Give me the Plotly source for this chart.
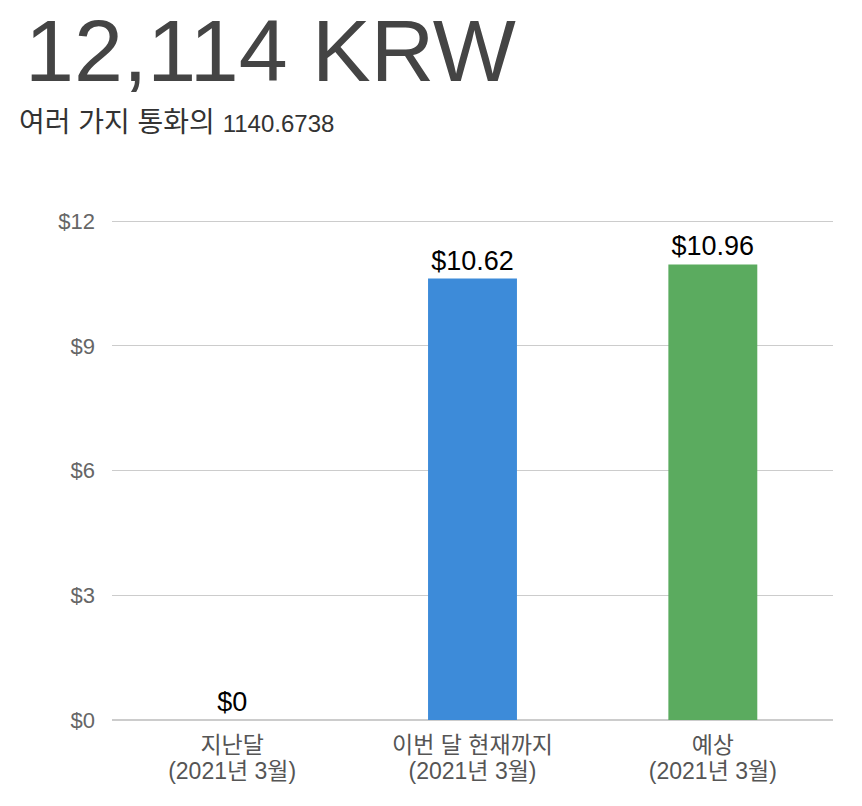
import plotly.graph_objects as go

categories = ["지난달<br>(2021년 3월)", "이번 달 현재까지<br>(2021년 3월)", "예상<br>(2021년 3월)"]
values = [0, 10.62, 10.96]
labels = ["$0", "$10.62", "$10.96"]
colors = ["#e8a33d", "#3d8bd9", "#5bab5f"]
y_ticks = [0, 3, 6, 9, 12]
y_tick_text = ["$0", "$3", "$6", "$9", "$12"]

FONT = "Liberation Sans, Arial, Noto Sans CJK KR, sans-serif"

# page body has an 8px margin; figure is sized to fit the 862x806 window
W, H = 854, 798

def big(s):
    return "<br>".join("<span style='font-size:23px'>%s</span>" % p for p in s.split("<br>"))

fig = go.Figure(go.Bar(
    x=categories, y=values, text=labels, textposition="outside",
    marker=dict(color=colors, line=dict(width=0)),
    textfont=dict(family=FONT, size=27, color="#000"),
    cliponaxis=False,
))

fig.update_layout(
    width=W, height=H,
    margin=dict(l=104, r=29, t=212, b=86, autoexpand=False),
    paper_bgcolor="white", plot_bgcolor="white",
    bargap=0.63,
    showlegend=False,
    font=dict(family=FONT),
    title=dict(text="12,114 KRW", x=17/W, xref="container", xanchor="left",
               y=1-11/H, yref="container", yanchor="top",
               font=dict(family=FONT, size=88, color="#444")),
    annotations=[dict(text="<span style='font-size:28px'>여러 가지 통화의 </span>1140.6738",
                      xref="paper", yref="paper",
                      x=(17-112)/721, y=(720-122)/500, xanchor="left", yanchor="middle",
                      showarrow=False, font=dict(family=FONT, size=24, color="#333"))],
)
fig.update_yaxes(range=[0, 12.03], tickvals=y_ticks, ticktext=y_tick_text, showgrid=True,
                 gridcolor="#cccccc", gridwidth=1, zeroline=True, zerolinecolor="#cccccc",
                 ticks="", ticklabelstandoff=16, showline=False, automargin=False,
                 tickfont=dict(family=FONT, size=22, color="#666"))
fig.update_xaxes(showline=False, ticks="", automargin=False, ticklabelstandoff=12,
                 tickvals=categories, ticktext=[big(c) for c in categories],
                 tickfont=dict(family=FONT, size=20, color="#555"))

fig.write_html("out.html")
